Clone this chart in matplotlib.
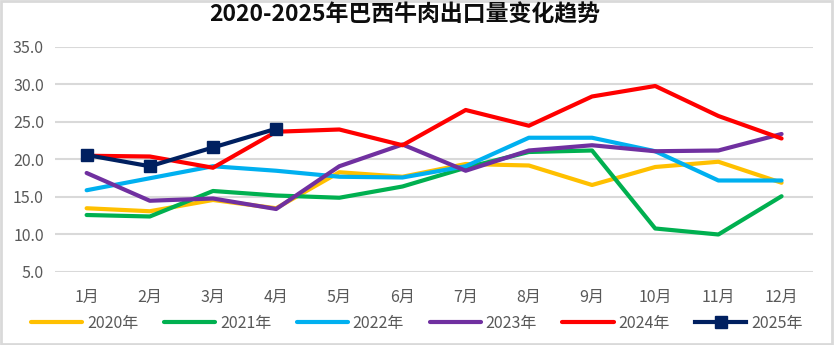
import matplotlib.pyplot as plt
from matplotlib.patches import Rectangle

plt.rcParams["font.family"] = ["Noto Sans CJK SC", "DejaVu Sans"]

months = ["1月", "2月", "3月", "4月", "5月", "6月", "7月", "8月", "9月", "10月", "11月", "12月"]

y2020 = [13.5, 13.1, 14.6, 13.5, 18.3, 17.7, 19.4, 19.2, 16.6, 19.0, 19.7, 16.9]
y2021 = [12.6, 12.4, 15.8, 15.2, 14.9, 16.4, 18.9, 21.0, 21.2, 10.8, 10.0, 15.1]
y2022 = [15.9, 17.5, 19.1, 18.5, 17.7, 17.6, 19.1, 22.9, 22.9, 21.1, 17.2, 17.2]
y2023 = [18.2, 14.5, 14.8, 13.4, 19.1, 22.0, 18.5, 21.2, 21.9, 21.1, 21.2, 23.4]
y2024 = [20.5, 20.4, 18.9, 23.7, 24.0, 21.9, 26.6, 24.5, 28.4, 29.8, 25.8, 22.8]
y2025 = [20.6, 19.1, 21.6, 24.1]

series = [
    ("2020年", y2020, "#FFC000"),
    ("2021年", y2021, "#00B050"),
    ("2022年", y2022, "#00B0F0"),
    ("2023年", y2023, "#7030A0"),
    ("2024年", y2024, "#FF0000"),
]

fig = plt.figure(figsize=(8.34, 3.45), dpi=100)
ax = fig.add_axes([0.066, 0.2116, 0.909, 0.6522])

x = list(range(len(months)))
for label, vals, color in series:
    ax.plot(x[:len(vals)], vals, color=color, linewidth=3, label=label, solid_capstyle="round")
ax.plot(x[:len(y2025)], y2025, color="#002060", linewidth=3, marker="s",
        markersize=8.5, label="2025年")

ax.set_xlim(-0.5, 11.5)
ax.set_ylim(5, 35)
ax.set_yticks([5, 10, 15, 20, 25, 30, 35])
ax.set_yticklabels([f"{v:.1f}" for v in [5, 10, 15, 20, 25, 30, 35]])
ax.set_xticks(x)
ax.set_xticklabels(months)
ax.tick_params(axis="both", length=0, colors="#595959", labelsize=11.5)
ax.tick_params(axis="x", pad=12)
ax.tick_params(axis="y", pad=8)
ax.grid(axis="y", color="#D9D9D9", linewidth=1.5)
ax.set_axisbelow(True)
for s in ax.spines.values():
    s.set_visible(False)

fig.suptitle("2020-2025年巴西牛肉出口量变化趋势", x=0.485, y=0.99, fontsize=16.5,
             fontweight="bold", color="#0D0D0D")

fig.legend(loc="center", bbox_to_anchor=(0.5, 0.063), ncol=6, frameon=False,
           fontsize=11.5, handlelength=3.2, columnspacing=1.6, handletextpad=0.3,
           labelcolor="#595959")

fig.patches.append(Rectangle((0.001, 0.003), 0.997, 0.994, transform=fig.transFigure,
                             fill=False, edgecolor="#D9D9D9", linewidth=2))

fig.savefig("out.png", dpi=100)
